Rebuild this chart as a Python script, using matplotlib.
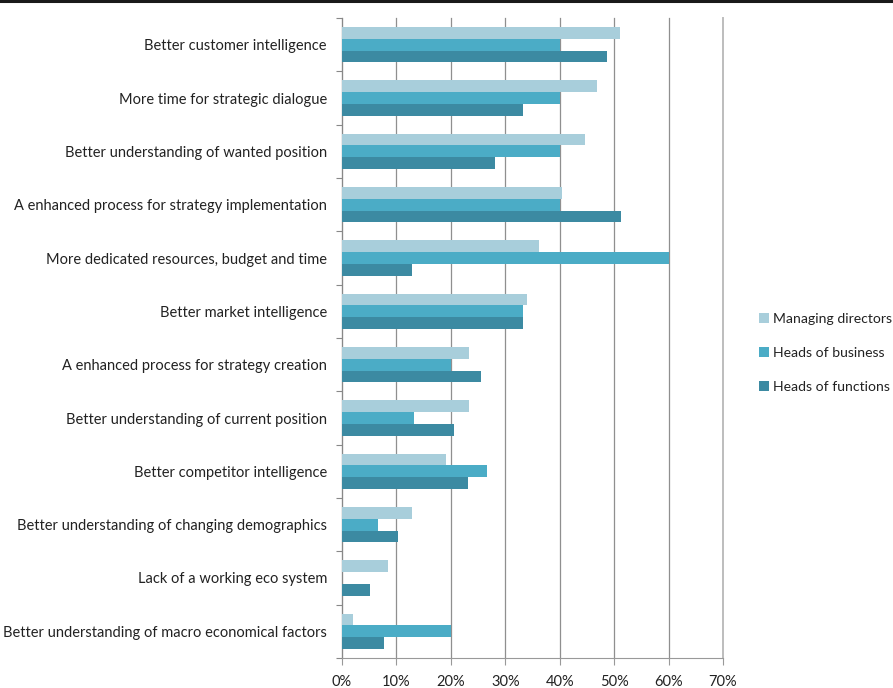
import numpy as np
import matplotlib
matplotlib.use('Agg')
from matplotlib import pyplot as plt
from matplotlib.ticker import FixedLocator, FuncFormatter

plt.rcParams['font.family'] = ['Lato', 'DejaVu Sans']

categories = ['Better customer intelligence',
              'More time for strategic dialogue',
              'Better understanding of wanted position',
              'A enhanced process for strategy implementation',
              'More dedicated resources, budget and time',
              'Better market intelligence',
              'A enhanced process for strategy creation',
              'Better understanding of current position',
              'Better competitor intelligence',
              'Better understanding of changing demographics',
              'Lack of a working eco system',
              'Better understanding of macro economical factors']

managing_directors = [51.1, 46.8, 44.7, 40.4, 36.2, 34.0, 23.3, 23.3, 19.1, 12.8, 8.5, 2.1]
heads_of_business = [40.0, 40.0, 40.0, 40.0, 60.0, 33.3, 20.0, 13.3, 26.7, 6.7, 0.0, 20.0]
heads_of_functions = [48.7, 33.3, 28.2, 51.3, 12.8, 33.3, 25.6, 20.5, 23.1, 10.3, 5.1, 7.7]

series_names = ['Managing directors', 'Heads of business', 'Heads of functions']
colors = ['#A8CEDB', '#4BACC6', '#3C8AA2']

fig = plt.figure(figsize=(8.93, 6.88), dpi=100)
ax = fig.add_axes([342/893, 1-658/688, (723-342)/893, (658-18)/688])

y = np.arange(len(categories))
h = 0.22
for k, (vals, name, c) in enumerate(zip([managing_directors, heads_of_business, heads_of_functions],
                                        series_names, colors)):
    ax.barh(y + (k-1)*h, vals, height=h, color=c, label=name, zorder=3)

ax.set_ylim(len(categories)-0.5, -0.5)
ax.set_xlim(0, 70)

# category labels in the middle, tick marks between groups
ax.set_yticks(y)
ax.set_yticklabels(categories, fontsize=10.5, color='#222222')
ax.tick_params(axis='y', which='major', length=0, pad=10.8)
ax.yaxis.set_minor_locator(FixedLocator(np.arange(-0.5, len(categories), 1)))
ax.tick_params(axis='y', which='minor', length=4, color='#888888', width=0.8)

ax.set_xticks(np.arange(0, 71, 10))
ax.xaxis.set_major_formatter(FuncFormatter(lambda v, p: '%d%%' % v))
ax.tick_params(axis='x', length=5, color='#999999', width=0.8, labelsize=10.5, pad=7, labelcolor='#222222')
ax.grid(axis='x', color='#8f8f8f', linewidth=0.9, zorder=0)
for gl in ax.get_xgridlines():
    gl.set_clip_on(False)
ax.get_xgridlines()[-1].set_color('#bdbdbd')
ax.get_xgridlines()[-1].set_linewidth(1.4)

for s in ['top', 'right']:
    ax.spines[s].set_visible(False)
ax.spines['left'].set_color('#888888')
ax.spines['bottom'].set_color('#999999')

leg = ax.legend(loc='center left', bbox_to_anchor=(759/893, 1-353/688), bbox_transform=fig.transFigure,
                frameon=False, fontsize=10.1, handlelength=0.7, handleheight=0.7,
                handletextpad=0.3, labelspacing=1.55, borderaxespad=0, borderpad=0)
for t in leg.get_texts():
    t.set_color('#222222')

# dark rule along the top edge
fig.add_artist(plt.Line2D([0, 1], [1-1/688, 1-1/688], transform=fig.transFigure, color='#1a1a1a', linewidth=2.2))

plt.savefig('out.png', dpi=100)
